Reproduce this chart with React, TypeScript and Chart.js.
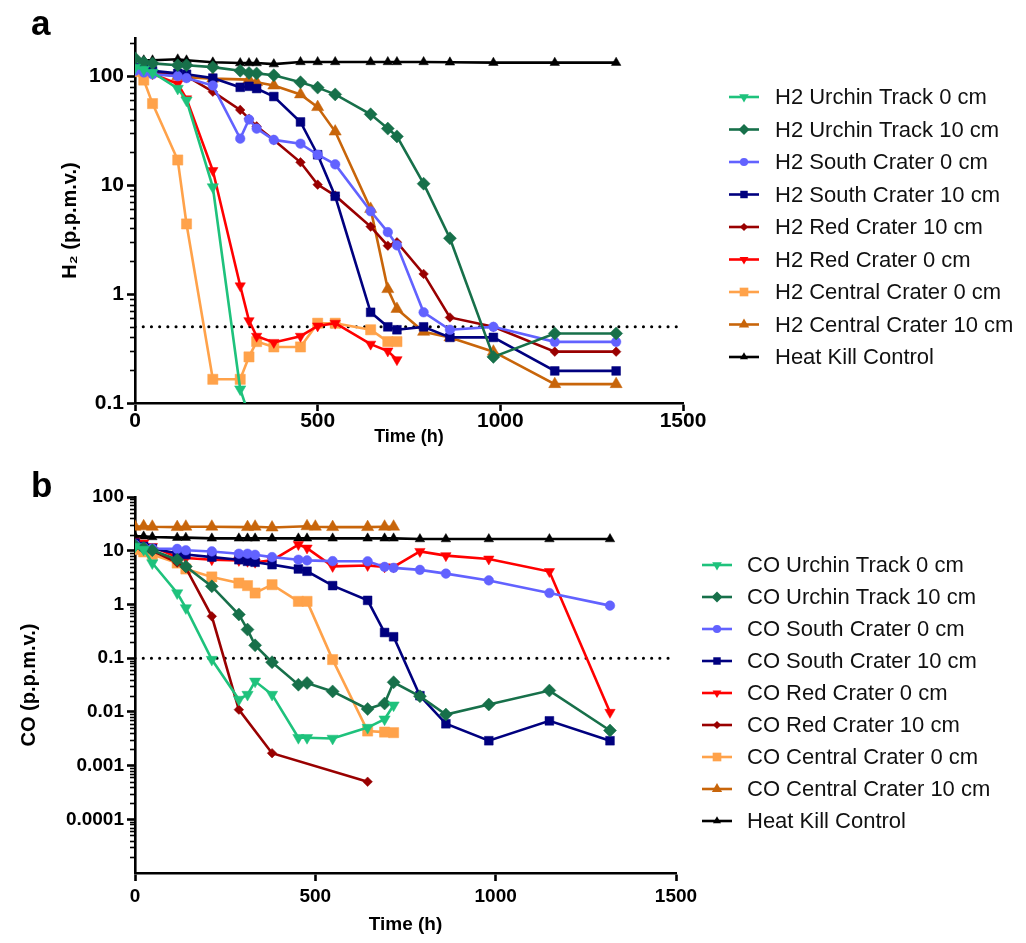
import React, { useEffect, useRef } from "react";
import { Chart, registerables } from "chart.js";

Chart.register(...registerables);

const FONT = '"Liberation Sans", Arial, Helvetica, sans-serif';
const N = null;

// Sampling times (h)
const sampleTimes = [0, 24, 48, 117, 141, 213, 288, 312, 333, 380, 453, 477, 500, 548, 645, 692, 717, 790, 862, 981, 1149, 1317];

// ---- Panel a: H2 (p.p.m.v.)
const h2UrchinTrack0 = [120, 115, 108, 77, 60, 9.6, 0.134, 0.077, N, N, N, N, N, N, N, N, N, N, N, N, N, N];
const h2UrchinTrack10 = [146, 134, 131, 126, 126, 121, 112, 107, 106, 102, 88, N, 78.5, 68, 44.7, 33, 28, 10.3, 3.25, 0.265, 0.435, 0.435];
const h2SouthCrater0 = [112, 108, 104, 100, 96, 82, 26.7, 40, 33, 26, 24, N, 19, 15.5, 5.75, 3.7, 2.8, 0.68, 0.47, 0.5, 0.364, 0.364];
const h2SouthCrater10 = [120, 116, 112, 106, 104, 96, 79, 80.7, 77, 65, 38, N, 19, 7.9, 0.68, 0.5, 0.47, 0.5, 0.4, 0.4, 0.197, 0.197];
const h2RedCrater10 = [115, 112, 108, 102, 100, 72, 49, 40.7, 34.6, 26, 16.2, N, 10.1, 8.0, 4.16, 2.78, 2.99, 1.53, 0.61, 0.5, 0.296, 0.296];
const h2RedCrater0 = [118, 113, 105, 85, 62, 13.6, 1.19, 0.57, 0.41, 0.36, 0.41, N, 0.51, 0.54, 0.347, 0.3, 0.25, N, N, N, N, N];
const h2CentralCrater0 = [110, 92, 56, 17, 4.4, 0.165, 0.165, 0.265, 0.366, 0.327, 0.327, N, 0.54, 0.54, 0.47, 0.366, 0.366, N, N, N, N, N];
const h2CentralCrater10 = [112, 110, 106, 100, 98, 95, N, 93, 88, 82, 68, N, 52, 31, 6.05, 1.11, 0.73, 0.45, 0.4, 0.296, 0.149, 0.149];
const h2HeatKill = [145, 140, 140, 143, 140, 134, 132, 132, 132, 129, 135, N, 135, 135, 135, 135, 135, 135, 134, 133, 133, 133];
const h2Threshold = 0.5;
const h2YTicks = [0.1, 1, 10, 100];

// ---- Panel b: CO (p.p.m.v.)
const coUrchinTrack0 = [12, 10.5, 5.9, 1.63, 0.86, 0.094, 0.017, 0.021, 0.037, 0.021, 0.0033, 0.0033, N, 0.0032, 0.0051, 0.0073, 0.0133, N, N, N, N, N];
const coUrchinTrack10 = [12.5, 11.2, 10.2, 6.8, 5.1, 2.17, 0.65, 0.34, 0.173, 0.084, 0.032, 0.0345, N, 0.024, 0.0113, 0.0143, 0.0356, 0.0195, 0.0089, 0.0137, 0.0249, 0.0045];
const coSouthCrater0 = [13, 11.5, 11, 10.8, 10.2, 9.7, 8.8, 8.8, 8.4, 7.6, 6.8, 6.6, N, 6.4, 6.35, 5.0, 4.8, 4.4, 3.75, 2.8, 1.63, 0.95];
const coSouthCrater10 = [13.9, 12, 11, 9, 8.5, 7.6, 6.8, 6.35, 6.1, 5.5, 4.57, 4.14, N, 2.24, 1.19, 0.3, 0.25, 0.02, 0.006, 0.0029, 0.0068, 0.0029];
const coRedCrater0 = [15, 13.9, 12, 7.6, 7.3, 6.8, 6.6, 6.35, 6.1, 6.6, 13, 11.2, N, 5.1, 5.3, 5.0, 5.0, 9.7, 8.1, 7.0, 4.1, 0.0098];
const coRedCrater10 = [12, 11, 10, 6, 4.8, 0.6, 0.011, N, N, 0.0017, N, N, N, N, 0.0005, N, N, N, N, N, N, N];
const coCentralCrater0 = [10.5, 9.5, 8.5, 5.9, 4.57, 3.25, 2.5, 2.24, 1.63, 2.33, 1.14, 1.14, N, 0.094, 0.0044, 0.0042, 0.0041, N, N, N, N, N];
const coCentralCrater10 = [28, 28.5, 28, 27.5, 28, 28, N, 27.5, 28, 27, N, 28.5, 28, 27.5, 27.5, 28, 28, N, N, N, N, N];
const coHeatKill = [18.5, 18.5, 18, 17.5, 17.5, 17, 17, 17, 17, 17, 17, 17, N, 17, 17, 17, 17, 16.5, 16.5, 16.5, 16.5, 16.5];
const coThreshold = 0.1;
const coYTicks = [0.0001, 0.001, 0.01, 0.1, 1, 10, 100];

const xTicks = [0, 500, 1000, 1500];

type Style = { color: string; shape: string; radius: number; rotation: number };
const ST: Record<string, Style> = {
  urchin0: { color: "#1EC27C", shape: "triangle", radius: 6.5, rotation: 180 },
  urchin10: { color: "#17704A", shape: "rectRot", radius: 6.5, rotation: 0 },
  south0: { color: "#6262FF", shape: "circle", radius: 4.8, rotation: 0 },
  south10: { color: "#00007F", shape: "rect", radius: 6.2, rotation: 0 },
  red10: { color: "#990000", shape: "rectRot", radius: 4.8, rotation: 0 },
  red0: { color: "#FF0000", shape: "triangle", radius: 6, rotation: 180 },
  central0: { color: "#FFA24A", shape: "rect", radius: 7.2, rotation: 0 },
  central10: { color: "#C8650A", shape: "triangle", radius: 7, rotation: 0 },
  heat: { color: "#000000", shape: "triangle", radius: 5.5, rotation: 0 },
};

type Series = { label: string; values: (number | null)[]; st: Style };

const h2Series: Series[] = [
  { label: "H2 Urchin Track 0 cm", values: h2UrchinTrack0, st: ST.urchin0 },
  { label: "H2 Urchin Track 10 cm", values: h2UrchinTrack10, st: ST.urchin10 },
  { label: "H2 South Crater 0 cm", values: h2SouthCrater0, st: ST.south0 },
  { label: "H2 South Crater 10 cm", values: h2SouthCrater10, st: ST.south10 },
  { label: "H2 Red Crater 10 cm", values: h2RedCrater10, st: ST.red10 },
  { label: "H2 Red Crater 0 cm", values: h2RedCrater0, st: ST.red0 },
  { label: "H2 Central Crater 0 cm", values: h2CentralCrater0, st: ST.central0 },
  { label: "H2 Central Crater 10 cm", values: h2CentralCrater10, st: ST.central10 },
  { label: "Heat Kill Control", values: h2HeatKill, st: ST.heat },
];

const coSeries: Series[] = [
  { label: "CO Urchin Track 0 cm", values: coUrchinTrack0, st: ST.urchin0 },
  { label: "CO Urchin Track 10 cm", values: coUrchinTrack10, st: ST.urchin10 },
  { label: "CO South Crater 0 cm", values: coSouthCrater0, st: ST.south0 },
  { label: "CO South Crater 10 cm", values: coSouthCrater10, st: ST.south10 },
  { label: "CO Red Crater 0 cm", values: coRedCrater0, st: ST.red0 },
  { label: "CO Red Crater 10 cm", values: coRedCrater10, st: ST.red10 },
  { label: "CO Central Crater 0 cm", values: coCentralCrater0, st: ST.central0 },
  { label: "CO Central Crater 10 cm", values: coCentralCrater10, st: ST.central10 },
  { label: "Heat Kill Control", values: coHeatKill, st: ST.heat },
];

function drawMarker(ctx: CanvasRenderingContext2D, st: Style, x: number, y: number, r: number) {
  ctx.save();
  ctx.fillStyle = st.color;
  ctx.beginPath();
  if (st.shape === "circle") {
    ctx.arc(x, y, r, 0, Math.PI * 2);
  } else if (st.shape === "rect") {
    const h = r * Math.SQRT1_2;
    ctx.rect(x - h, y - h, 2 * h, 2 * h);
  } else if (st.shape === "rectRot") {
    ctx.moveTo(x, y - r);
    ctx.lineTo(x + r, y);
    ctx.lineTo(x, y + r);
    ctx.lineTo(x - r, y);
    ctx.closePath();
  } else {
    let rad = (st.rotation * Math.PI) / 180;
    for (let i = 0; i < 3; i++) {
      const px = x + Math.sin(rad) * r;
      const py = y - Math.cos(rad) * r;
      if (i === 0) ctx.moveTo(px, py);
      else ctx.lineTo(px, py);
      rad += (2 * Math.PI) / 3;
    }
    ctx.closePath();
  }
  ctx.fill();
  ctx.restore();
}

type PanelSpec = {
  letter: string;
  series: Series[];
  threshold: number;
  yMin: number;
  yMax: number;
  yTicks: number[];
  yTitle: string;
  height: number;
  padTop: number;
  padRight: number;
  xAxisHeight: number;
  tickFont: number;
  xTitleFont: number;
  yTitleFont: number;
  xTickPad: number;
  xTitlePadBottom: number;
  yTitleOffset: number;
  legendX1: number;
  legendX2: number;
  legendTextX: number;
  legendY0: number;
  legendDy: number;
  letterBaseline: number;
};

function buildChart(canvas: HTMLCanvasElement, p: PanelSpec) {
  const datasets: any[] = p.series.map((s) => ({
    label: s.label,
    data: sampleTimes.map((t, i) => ({ x: t, y: s.values[i] })),
    borderColor: s.st.color,
    backgroundColor: s.st.color,
    borderWidth: 2.6,
    pointStyle: s.st.shape,
    pointRadius: s.st.radius,
    pointHoverRadius: s.st.radius,
    pointRotation: s.st.rotation,
    pointBorderWidth: 0.5,
    pointBorderColor: s.st.color,
    pointBackgroundColor: s.st.color,
    spanGaps: true,
    tension: 0,
    fill: false,
  }));
  datasets.push({
    label: "__threshold",
    data: [
      { x: 0, y: p.threshold },
      { x: 1500, y: p.threshold },
    ],
    borderColor: "#000",
    borderWidth: 3,
    borderDash: [0.1, 8.1],
    borderCapStyle: "round",
    pointRadius: 0,
    fill: false,
  });

  const extras = {
    id: "extras_" + p.letter,
    afterDraw(chart: any) {
      const ctx: CanvasRenderingContext2D = chart.ctx;
      const ys = chart.scales.y;
      // minor ticks
      ctx.save();
      ctx.strokeStyle = "#000";
      ctx.lineWidth = 1.6;
      const x0 = chart.chartArea.left;
      const d0 = Math.floor(Math.log10(p.yMin));
      const d1 = Math.ceil(Math.log10(p.yMax));
      for (let d = d0; d <= d1; d++) {
        for (let k = 2; k <= 9; k++) {
          const v = k * Math.pow(10, d);
          if (v <= p.yMin || v >= p.yMax) continue;
          const py = Math.round(ys.getPixelForValue(v)) + 0.5;
          ctx.beginPath();
          ctx.moveTo(x0 - 5, py);
          ctx.lineTo(x0, py);
          ctx.stroke();
        }
      }
      ctx.restore();

      // panel letter
      ctx.save();
      ctx.fillStyle = "#000";
      ctx.font = `bold 35px ${FONT}`;
      ctx.textBaseline = "alphabetic";
      ctx.textAlign = "left";
      ctx.fillText(p.letter, 31, p.letterBaseline);
      ctx.restore();

      // legend
      ctx.save();
      p.series.forEach((s, i) => {
        const y = p.legendY0 + i * p.legendDy;
        ctx.strokeStyle = s.st.color;
        ctx.lineWidth = 2.6;
        ctx.beginPath();
        ctx.moveTo(p.legendX1, y);
        ctx.lineTo(p.legendX2, y);
        ctx.stroke();
        drawMarker(ctx, s.st, (p.legendX1 + p.legendX2) / 2, y, s.st.radius * 0.85);
        ctx.fillStyle = "#111";
        ctx.font = `22px ${FONT}`;
        ctx.textBaseline = "middle";
        ctx.textAlign = "left";
        ctx.fillText(s.label, p.legendTextX, y + 1);
      });
      ctx.restore();
    },
  };

  return new Chart(canvas, {
    type: "line",
    data: { datasets },
    options: {
      responsive: false,
      animation: false,
      events: [],
      layout: { padding: { top: p.padTop, right: p.padRight, left: 0, bottom: 0 } },
      plugins: { legend: { display: false }, tooltip: { enabled: false } },
      scales: {
        x: {
          type: "linear",
          min: 0,
          max: 1500,
          afterBuildTicks: (scale: any) => {
            scale.ticks = xTicks.map((v) => ({ value: v }));
          },
          afterFit: (scale: any) => {
            scale.height = p.xAxisHeight;
            scale.paddingLeft = 0;
            scale.paddingRight = 0;
          },
          ticks: {
            color: "#000",
            font: { family: FONT, size: p.tickFont, weight: "bold", lineHeight: 1 },
            padding: p.xTickPad,
            maxRotation: 0,
            autoSkip: false,
            callback: (v: any) => String(Number(v)),
          },
          grid: {
            display: true,
            drawOnChartArea: false,
            drawTicks: true,
            tickLength: 8,
            tickColor: "#000",
            tickWidth: 2.6,
          },
          border: { display: true, color: "#000", width: 2.6 },
          title: {
            display: true,
            text: "Time (h)",
            color: "#000",
            font: { family: FONT, size: p.xTitleFont, weight: "bold", lineHeight: 1 },
            padding: { top: 0, bottom: p.xTitlePadBottom },
          },
        },
        y: {
          type: "logarithmic",
          min: p.yMin,
          max: p.yMax,
          afterBuildTicks: (scale: any) => {
            scale.ticks = p.yTicks.map((v) => ({ value: v }));
          },
          afterFit: (scale: any) => {
            scale.width = 135;
            scale.paddingTop = 0;
            scale.paddingBottom = 0;
          },
          ticks: {
            color: "#000",
            font: { family: FONT, size: p.tickFont, weight: "bold" },
            padding: 3,
            autoSkip: false,
            callback: (v: any) => String(Number(v)),
          },
          grid: {
            display: true,
            drawOnChartArea: false,
            drawTicks: true,
            tickLength: 8,
            tickColor: "#000",
            tickWidth: 2.6,
          },
          border: { display: true, color: "#000", width: 2.6 },
          title: {
            display: true,
            text: p.yTitle,
            color: "#000",
            font: { family: FONT, size: p.yTitleFont, weight: "bold" },
            padding: { top: p.yTitleOffset, bottom: 0 },
          },
        },
      },
    } as any,
    plugins: [extras],
  });
}

const panelA: PanelSpec = {
  letter: "a",
  series: h2Series,
  threshold: h2Threshold,
  yMin: 0.1,
  yMax: 224,
  yTicks: h2YTicks,
  yTitle: "H\u2082 (p.p.m.v.)",
  height: 470,
  padTop: 38,
  padRight: 1026 - 683,
  xAxisHeight: 67,
  tickFont: 21,
  xTitleFont: 18,
  yTitleFont: 20,
  xTickPad: 0,
  xTitlePadBottom: 24,
  yTitleOffset: 58,
  legendX1: 729,
  legendX2: 759,
  legendTextX: 775,
  legendY0: 97,
  legendDy: 32.5,
  letterBaseline: 35,
};

const panelB: PanelSpec = {
  letter: "b",
  series: coSeries,
  threshold: coThreshold,
  yMin: 0.00001,
  yMax: 100,
  yTicks: coYTicks,
  yTitle: "CO (p.p.m.v.)",
  height: 473,
  padTop: 27,
  padRight: 1026 - 676,
  xAxisHeight: 70,
  tickFont: 19,
  xTitleFont: 19,
  yTitleFont: 20,
  xTickPad: 6,
  xTitlePadBottom: 9,
  yTitleOffset: 17,
  legendX1: 702,
  legendX2: 732,
  legendTextX: 747,
  legendY0: 95,
  legendDy: 32,
  letterBaseline: 27,
};

export default function App() {
  const refA = useRef<HTMLCanvasElement | null>(null);
  const refB = useRef<HTMLCanvasElement | null>(null);

  useEffect(() => {
    Chart.defaults.font.family = FONT;
    Chart.defaults.color = "#000";
    const a = refA.current ? buildChart(refA.current, panelA) : null;
    const b = refB.current ? buildChart(refB.current, panelB) : null;
    return () => {
      a?.destroy();
      b?.destroy();
    };
  }, []);

  return (
    <div style={{ position: "absolute", left: 0, top: 0, width: 1026, height: 943, background: "#fff" }}>
      <canvas
        ref={refA}
        width={1026}
        height={panelA.height}
        style={{ position: "absolute", left: 0, top: 0, width: 1026, height: panelA.height }}
      />
      <canvas
        ref={refB}
        width={1026}
        height={panelB.height}
        style={{ position: "absolute", left: 0, top: panelA.height, width: 1026, height: panelB.height }}
      />
    </div>
  );
}
